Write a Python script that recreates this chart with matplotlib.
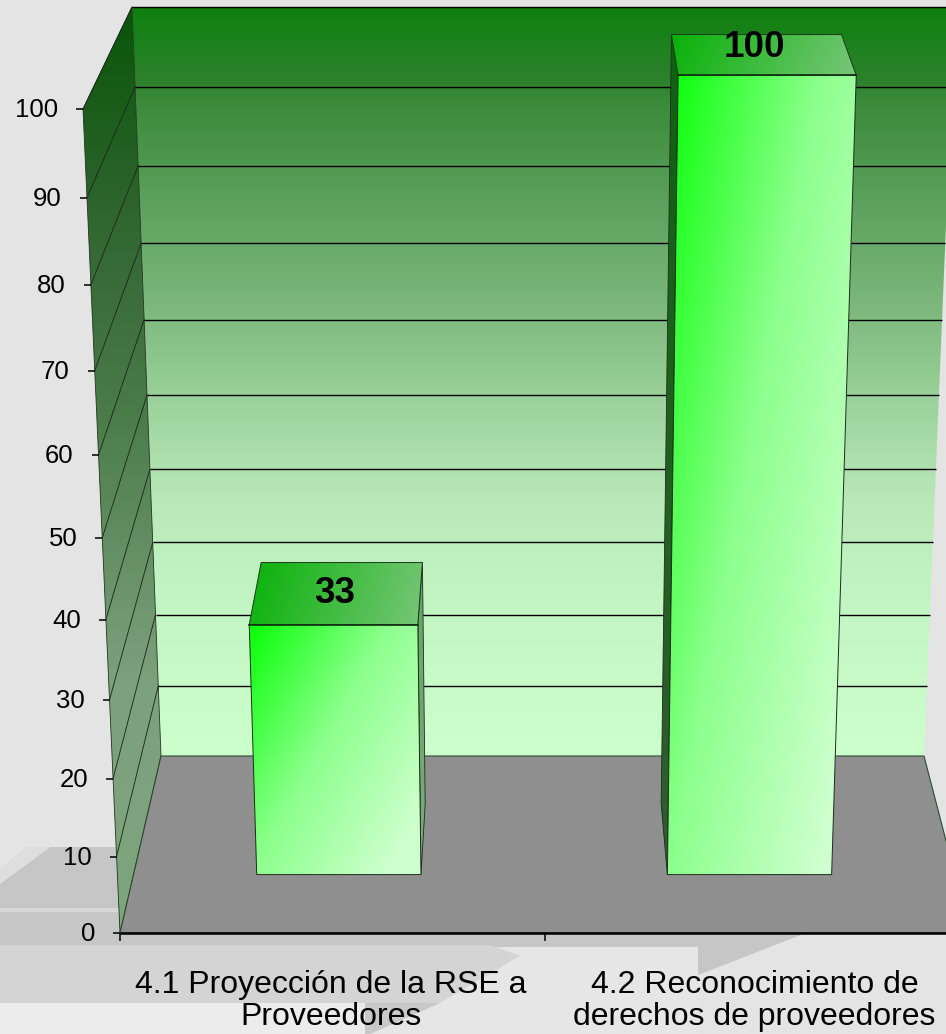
import numpy as np
import matplotlib
matplotlib.use("Agg")
import matplotlib.pyplot as plt
from matplotlib.patches import Polygon
from matplotlib.colors import LinearSegmentedColormap

plt.rcParams['font.family'] = ['Liberation Sans', 'DejaVu Sans']

categories = ["4.1 Proyección de la RSE a\nProveedores", "4.2 Reconocimiento de\nderechos de proveedores"]
values = [33, 100]
value_ticks = [0, 10, 20, 30, 40, 50, 60, 70, 80, 90, 100]

W, H = 946, 1034
fig = plt.figure(figsize=(W / 100, H / 100), dpi=100)
ax = fig.add_axes([0, 0, 1, 1])
ax.set_xlim(0, W)
ax.set_ylim(H, 0)
ax.axis('off')


# ---- perspective scale: category position, value, depth -> picture position
def warp(v, k):
    t = np.asarray(v, float) / 100.0
    return t * (1 + k) / (1 + k * t)


def proj(xc, v, d):
    tf, tb = warp(v, -0.079), warp(v, -0.0695)
    yf, yb = 933 - 824 * tf, 756 - 749 * tb
    lf, lb = 120 - 37 * tf, 161 - 29 * tb
    rf, rb = 970 + 37 * tf, 924 + 31 * tb
    xl = lf + (lb - lf) * d
    xr = rf + (rb - rf) * d
    return xl + (xr - xl) * xc / len(categories), yf + (yb - yf) * d


def rgb(*c):
    return tuple(i / 255 for i in c)


def vgrad(stops, y0, y1):
    return LinearSegmentedColormap.from_list('g', [((y - y0) / (y1 - y0), rgb(*c)) for y, c in stops])


def fill(poly, img, cmap, bbox=None, z=1, vmin=0, vmax=1):
    pts = np.array(poly)
    if bbox is None:
        bbox = (pts[:, 0].min(), pts[:, 0].max(), pts[:, 1].max(), pts[:, 1].min())
    im = ax.imshow(img, extent=bbox, cmap=cmap, vmin=vmin, vmax=vmax, aspect='auto', zorder=z,
                   interpolation='bilinear')
    p = Polygon(pts, closed=True, transform=ax.transData, fc='none', ec='none')
    ax.add_patch(p)
    im.set_clip_path(p)
    ax.set_xlim(0, W)
    ax.set_ylim(H, 0)


def vimg(n=256):
    return np.linspace(0, 1, n)[:, None]


# ---- slide background
ax.add_patch(Polygon([(0, 0), (W, 0), (W, H), (0, H)], fc='#e4e4e4', ec='none', zorder=0))
bg = [
    ([(0, 870), (27, 847), (500, 847), (500, 933), (806, 933), (698, 975), (698, 947), (0, 947)], '#c6c6c6'),
    ([(0, 870), (27, 847), (50, 847), (22, 868), (0, 884)], '#dedede'),
    ([(0, 908), (300, 908), (300, 912), (0, 912)], '#d8d8d8'),
    ([(0, 945), (490, 945), (520, 956), (440, 1003), (0, 1003)], '#d4d4d4'),
    ([(505, 947), (698, 947), (698, 1034), (370, 1034), (440, 1003), (520, 956)], '#e6e6e6'),
    ([(0, 1003), (365, 1003), (365, 1034), (0, 1034)], '#ececec'),
    ([(365, 1003), (440, 1003), (370, 1034), (365, 1034)], '#c8c8c8'),
]
for pts, col in bg:
    ax.add_patch(Polygon(pts, fc=col, ec='none', zorder=0.5))

# ---- back wall
wall_cmap = vgrad([(7, (14, 128, 14)), (80, (45, 130, 45)), (100, (58, 138, 58)), (200, (92, 160, 92)),
                   (300, (122, 182, 122)), (400, (155, 210, 155)), (500, (185, 232, 185)),
                   (600, (195, 245, 195)), (756, (204, 255, 204))], 7, 756)
back = [proj(0, 0, 1), proj(0, 100, 1), proj(2, 100, 1), proj(2, 0, 1)]
fill(back, vimg(), wall_cmap, z=1)

# ---- left wall
side_cmap = vgrad([(7, (8, 85, 8)), (200, (45, 100, 45)), (300, (60, 110, 60)), (420, (75, 125, 75)),
                   (680, (125, 160, 125)), (933, (125, 165, 125))], 7, 933)
left = [proj(0, 0, 0), proj(0, 100, 0), proj(0, 100, 1), proj(0, 0, 1)]
fill(left, vimg(), side_cmap, z=2)
ax.add_patch(Polygon(left, fc='none', ec='#223322', lw=0.6, zorder=2.2))

# ---- floor
floor = [proj(0, 0, 0), proj(0, 0, 1), proj(2, 0, 1), proj(2, 0, 0)]
ax.add_patch(Polygon(floor, fc='#8f8f8f', ec='#2e4a2e', lw=0.8, zorder=3))

# ---- gridlines
for v in value_ticks[1:]:
    a, b, c = proj(0, v, 0), proj(0, v, 1), proj(2, v, 1)
    ax.plot([a[0], b[0]], [a[1], b[1]], color='#1c2a1c', lw=0.65, zorder=2.5)
    ax.plot([b[0], c[0]], [b[1], c[1]], color='black', lw=1.0, zorder=2.5, solid_capstyle='butt')

# ---- bars
d0, d1 = 0.33, 0.73
half = 0.2
front_cmap = vgrad([(0, (8, 255, 8)), (0.5, (140, 255, 140)), (1, (206, 255, 206))], 0, 1)
top_cmap = vgrad([(0, (8, 178, 8)), (1, (120, 198, 120))], 0, 1)
side_shades = [((100, 165, 100), (125, 172, 125)), ((14, 100, 14), (50, 92, 50))]
bar_sides = [1, -1]
for i, v in enumerate(values):
    xa, xb = i + 0.5 - half, i + 0.5 + half
    # visible side face
    xs = xb if bar_sides[i] > 0 else xa
    sp = [proj(xs, 0, d0), proj(xs, v, d0), proj(xs, v, d1), proj(xs, 0, d1)]
    sc = LinearSegmentedColormap.from_list('s', [rgb(*side_shades[i][0]), rgb(*side_shades[i][1])])
    fill(sp, vimg(), sc, z=4)
    ax.add_patch(Polygon(sp, fc='none', ec='#1c2c1c', lw=0.6, zorder=4.1))
    # front face
    fp = [proj(xa, 0, d0), proj(xa, v, d0), proj(xb, v, d0), proj(xb, 0, d0)]
    uu, ww = np.meshgrid(np.linspace(0, 1, 200), np.linspace(0, 1, 300))
    fill(fp, np.clip(0.62 * uu + 0.5 * ww, 0, 1), front_cmap, z=5)
    ax.add_patch(Polygon(fp, fc='none', ec='#1c2c1c', lw=0.7, zorder=5.1))
    # top face
    tp = [proj(xa, v, d0), proj(xa, v, d1), proj(xb, v, d1), proj(xb, v, d0)]
    uu, ww = np.meshgrid(np.linspace(0, 1, 200), np.linspace(0, 1, 40))
    fill(tp, 0.9 * uu + 0.1 * ww, top_cmap, z=5)
    ax.add_patch(Polygon(tp, fc='none', ec='#1a3a1a', lw=0.7, zorder=5.1))
    a, b = proj(xa, v, d0), proj(xb, v, d0)
    ax.plot([a[0], b[0]], [a[1], b[1]], color='#123012', lw=1.2, zorder=5.2)

# ---- axis lines, ticks and labels
a, b = proj(0, 0, 0), proj(2, 0, 0)
ax.plot([a[0], b[0]], [a[1], b[1]], color='black', lw=1.8, zorder=6, solid_capstyle='butt')
for v in value_ticks:
    x, y = proj(0, v, 0)
    ax.plot([x - 7, x], [y, y], color='black', lw=1.1, zorder=6, solid_capstyle='butt')
    ax.text(x - 25, y + 1, str(v), ha='right', va='center', fontsize=18.5, color='black', zorder=7)
label_shift = [-1.5, -3]
for i in range(len(categories)):
    x, y = proj(i, 0, 0)
    ax.plot([x, x], [y, y + 8], color='black', lw=1.1, zorder=6, solid_capstyle='butt')
    xt, _ = proj(i + 0.5, 0, 0)
    ax.text(xt + label_shift[i], y + 68, categories[i], ha='center', va='center',
            fontsize=23, linespacing=1.08, color='black', zorder=7)

label_nudge = [(-3, 0), (-7, -7)]
for i, v in enumerate(values):
    x, y = proj(i + 0.5, v, (d0 + d1) / 2)
    ax.text(x + label_nudge[i][0], y + label_nudge[i][1], str(v), ha='center', va='center',
            fontsize=26.5, fontweight='bold', color='black', zorder=8)

fig.savefig('out.png', dpi=100)
